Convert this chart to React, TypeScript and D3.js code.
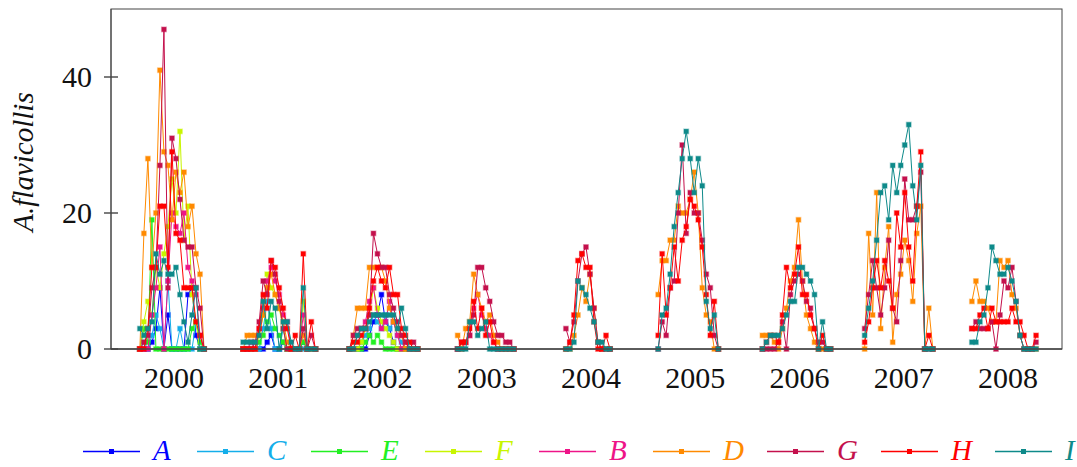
import React from 'react';
import * as d3 from 'd3';

const YEARS = [2000, 2001, 2002, 2003, 2004, 2005, 2006, 2007, 2008];
// first sampling week of each season, relative to mid-year
const SEASON_START = [-17, -17.5, -16.5, -14.5, -12.5, -18.5, -18.5, -19.5, -18];
const STEP_WEEKS = 2;
const Y_TICKS = [0, 20, 40];
const SERIES_NAMES = ['A', 'C', 'E', 'F', 'B', 'D', 'G', 'H', 'I'];
const SERIES_COLORS = ['#0000ff', '#14aeea', '#22f022', '#c8f500', '#ee1488', '#ff8a00', '#c4104c', '#ff0000', '#0e8a8a'];

const seriesA = [
  [0, 0, 0, 1, 3, 9, 0, 5, 0, 0, 0, 0, 8, 9, 2, 0, 0],
  [0, 0, 0, 0, 0, 0, 1, 2, 0, 0, 1, 0, 0, 0, 0, 1, 0, 0, 0],
  [0, 0, 0, 0, 0, 2, 4, 5, 8, 4, 3, 1, 0, 0, 0, 0, 0, 0],
  [], [], [], [], [], [],
];
const seriesC = [
  [0, 1, 0, 2, 5, 3, 0, 10, 0, 0, 3, 0, 0, 0, 4, 0, 0],
  [0, 0, 0, 0, 0, 3, 7, 3, 0, 0, 3, 0, 0, 0, 0, 0, 0, 0, 0],
  [0, 0, 0, 1, 2, 3, 5, 4, 3, 5, 3, 4, 2, 1, 0, 0, 0, 0],
  [], [], [], [], [], [],
];
const seriesE = [
  [0, 3, 1, 19, 0, 0, 0, 0, 0, 0, 0, 0, 0, 3, 4, 1, 0],
  [0, 0, 0, 0, 1, 2, 4, 5, 3, 2, 1, 0, 0, 0, 0, 1, 0, 0, 0],
  [0, 0, 0, 0, 1, 2, 1, 2, 1, 0, 0, 0, 0, 0, 0, 0, 0, 0],
  [], [], [], [], [], [],
];
const seriesF = [
  [0, 4, 7, 5, 12, 9, 14, 18, 25, 20, 32, 16, 21, 8, 4, 0, 0],
  [0, 0, 0, 0, 2, 5, 11, 9, 8, 6, 3, 0, 0, 0, 0, 7, 0, 0, 0],
  [0, 0, 0, 1, 3, 5, 9, 6, 4, 3, 2, 1, 0, 0, 0, 0, 0, 0],
  [], [], [], [], [], [],
];
const seriesB = [
  [0, 0, 0, 5, 9, 15, 0, 10, 20, 18, 17, 20, 12, 10, 8, 2, 0],
  [0, 0, 1, 0, 3, 6, 10, 12, 10, 8, 5, 4, 0, 0, 0, 5, 0, 0, 0],
  [0, 0, 2, 3, 4, 7, 9, 5, 3, 4, 7, 4, 2, 0, 1, 0, 0, 0],
  [0, 0, 1, 2, 6, 8, 5, 3, 2, 1, 0, 0, 0, 0, 0],
  [], [], [], [], [],
];
const seriesD = [
  [0, 17, 28, 12, 20, 41, 29, 27, 19, 26, 23, 26, 18, 21, 14, 11, 0],
  [0, 2, 2, 2, 2, 5, 9, 11, 8, 6, 4, 1, 0, 0, 0, 2, 0, 0, 0],
  [0, 2, 6, 6, 6, 12, 12, 12, 12, 10, 6, 4, 3, 2, 0, 0, 0, 0],
  [2, 0, 3, 4, 11, 8, 6, 4, 5, 2, 1, 0, 0, 0, 0],
  [0, 0, 2, 5, 9, 7, 11, 6, 1, 0, 0, 0],
  [8, 13, 13, 16, 16, 21, 20, 20, 22, 26, 20, 9, 5, 4, 0, 0],
  [2, 2, 2, 1, 0, 3, 6, 10, 12, 19, 10, 5, 3, 1, 0, 0, 0, 0],
  [0, 17, 5, 23, 3, 12, 18, 1, 8, 11, 16, 13, 7, 17, 21, 0, 6, 0],
  [7, 10, 7, 7, 6, 4, 4, 13, 12, 13, 8, 6, 2, 0, 0, 0, 0],
];
const seriesG = [
  [0, 1, 2, 9, 12, 27, 47, 9, 31, 28, 22, 16, 15, 15, 9, 6, 0],
  [0, 0, 0, 1, 4, 10, 8, 13, 11, 7, 3, 0, 0, 0, 0, 3, 0, 2, 0],
  [0, 2, 3, 3, 3, 5, 17, 14, 12, 12, 8, 6, 4, 2, 1, 0, 1, 0],
  [0, 1, 1, 2, 5, 12, 12, 9, 7, 4, 2, 2, 1, 1, 0],
  [3, 1, 4, 10, 14, 15, 11, 6, 1, 0, 0, 0],
  [0, 4, 2, 9, 10, 20, 30, 17, 23, 20, 20, 16, 11, 9, 2, 0],
  [0, 0, 0, 0, 1, 4, 0, 8, 10, 11, 10, 7, 6, 3, 1, 1, 0, 0],
  [3, 8, 13, 9, 5, 9, 16, 6, 4, 13, 25, 19, 19, 21, 26, 0, 0, 0],
  [3, 4, 3, 3, 3, 4, 0, 5, 10, 9, 12, 7, 2, 0, 0, 0, 1],
];
const seriesH = [
  [0, 0, 3, 12, 12, 21, 21, 12, 29, 17, 16, 9, 9, 9, 4, 2, 0],
  [0, 0, 0, 0, 3, 8, 6, 13, 12, 9, 6, 3, 0, 2, 0, 14, 0, 4, 0],
  [0, 1, 1, 2, 3, 6, 10, 12, 10, 9, 12, 8, 8, 3, 2, 1, 0, 0],
  [0, 1, 1, 3, 7, 3, 6, 2, 4, 1, 0, 0, 0, 0, 0],
  [0, 1, 5, 13, 14, 12, 12, 4, 0, 0, 2, 0],
  [2, 14, 5, 9, 15, 10, 16, 18, 22, 21, 19, 15, 8, 2, 7, 0],
  [0, 1, 2, 2, 1, 5, 12, 9, 11, 15, 8, 8, 5, 3, 0, 2, 0, 0],
  [1, 4, 9, 13, 9, 13, 10, 6, 20, 15, 23, 15, 10, 21, 29, 0, 2, 0],
  [3, 3, 5, 6, 3, 6, 4, 4, 4, 4, 6, 4, 4, 2, 0, 0, 2],
];
const seriesI = [
  [3, 2, 3, 4, 14, 11, 13, 11, 11, 12, 8, 4, 1, 5, 9, 0, 0],
  [1, 1, 1, 1, 2, 7, 3, 7, 6, 0, 4, 4, 1, 0, 0, 9, 0, 0, 0],
  [0, 0, 2, 3, 3, 4, 5, 5, 5, 5, 5, 5, 3, 6, 3, 0, 0, 0],
  [0, 0, 0, 4, 4, 2, 3, 4, 0, 0, 0, 0, 0, 0, 0],
  [0, 0, 1, 10, 9, 8, 6, 4, 1, 1, 0, 0],
  [0, 5, 6, 11, 18, 23, 28, 32, 28, 23, 28, 24, 7, 3, 5, 0],
  [0, 1, 2, 2, 2, 3, 5, 7, 7, 12, 12, 11, 10, 8, 0, 4, 0, 0],
  [2, 6, 10, 16, 23, 24, 19, 27, 23, 27, 30, 33, 24, 19, 27, 0, 0, 0],
  [1, 1, 4, 5, 9, 15, 13, 11, 11, 12, 10, 7, 2, 0, 0, 0, 0],
];
const SERIES_DATA = [seriesA, seriesC, seriesE, seriesF, seriesB, seriesD, seriesG, seriesH, seriesI];

const FONT = "'Liberation Serif', 'Times New Roman', serif";

export default function App() {
  const W = 1077, H = 467;
  const left = 111, right = 1062, top = 9, bottom = 349;
  const x = d3.scaleLinear().domain([1999.896, 2009.018]).range([left, right]);
  const y = d3.scaleLinear().domain([0, 50]).range([bottom, top]);
  const line = d3.line<[number, number]>().x(d => x(d[0])).y(d => y(d[1]));
  const ms = 4.6;

  const seasonPoints = (vals: number[], k: number): [number, number][] =>
    vals.map((v, i) => [YEARS[k] + 0.5 + (SEASON_START[k] + i * STEP_WEEKS) / 52, v]);

  const txt = { fontFamily: FONT } as React.CSSProperties;

  return (
    <svg width={W} height={H} style={{ position: 'absolute', left: 0, top: 0, background: '#fff' }}>
      <rect x={left} y={top} width={right - left} height={bottom - top} fill="none" stroke="#444" strokeWidth={1} />
      {SERIES_DATA.map((ser, si) => (
        <g key={si}>
          {ser.map((vals, k) => {
            if (!vals.length) return null;
            const pts = seasonPoints(vals, k);
            return (
              <g key={k}>
                <path d={line(pts) || ''} fill="none" stroke={SERIES_COLORS[si]} strokeWidth={1} />
                {pts.map((p, i) => (
                  <rect key={i} x={x(p[0]) - ms / 2} y={y(p[1]) - ms / 2} width={ms} height={ms}
                    fill={SERIES_COLORS[si]} stroke={SERIES_COLORS[si]} strokeOpacity={0.35} strokeWidth={1.4} />
                ))}
              </g>
            );
          })}
        </g>
      ))}
      <line x1={left} x2={right} y1={bottom} y2={bottom} stroke="#444" strokeWidth={1.6} />
      <line x1={left} x2={left} y1={top} y2={bottom} stroke="#444" strokeWidth={1} />
      {Y_TICKS.map(t => (
        <g key={t}>
          <line x1={left - 7} x2={left + 7} y1={y(t)} y2={y(t)} stroke="#444" strokeWidth={1.4} />
          <text x={left - 19} y={y(t) + 10} textAnchor="end" style={txt} fontSize={30} fill="#111">{t}</text>
        </g>
      ))}
      {YEARS.map(yr => (
        <text key={yr} x={x(yr + 0.5)} y={388} textAnchor="middle" style={txt} fontSize={30} fill="#111">{yr}</text>
      ))}
      <text transform={`translate(33,162) rotate(-90)`} textAnchor="middle" style={txt} fontStyle="italic" fontSize={29} fill="#111">A.flavicollis</text>
      {SERIES_NAMES.map((name, i) => {
        const x0 = 83 + i * 114;
        const ly = 451.5;
        return (
          <g key={name}>
            <line x1={x0} x2={x0 + 57} y1={ly} y2={ly} stroke={SERIES_COLORS[i]} strokeWidth={1.4} />
            <rect x={x0 + 28.5 - 2.5} y={ly - 2.5} width={5} height={5} fill={SERIES_COLORS[i]} />
            <text x={x0 + 70} y={460} style={txt} fontStyle="italic" fontSize={29} fill={SERIES_COLORS[i]}>{name}</text>
          </g>
        );
      })}
    </svg>
  );
}
